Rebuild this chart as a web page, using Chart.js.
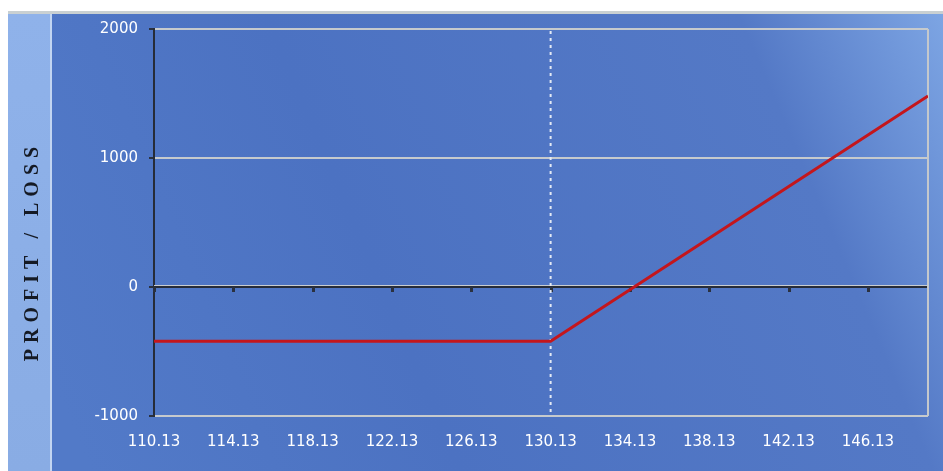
<!DOCTYPE html>
<html>
<head>
<meta charset="utf-8">
<script src="https://cdn.jsdelivr.net/npm/chart.js@4.4.1/dist/chart.umd.min.js"></script>
<style>
  html, body { margin: 0; padding: 0; background: #fff; }
  #wrap { width: 943px; height: 471px; }
</style>
</head>
<body>
<div id="wrap"><canvas id="pl"></canvas></div>
<script>
// Payoff of a long call: flat loss below the strike, rising above it.
const strikeLine = 130.13;
const priceLevels = [110.13, 130.13, 149.16];
const profitLoss = [-420, -420, 1480];
const xTickValues = [110.13, 114.13, 118.13, 122.13, 126.13, 130.13, 134.13, 138.13, 142.13, 146.13];
const yTickValues = [-1000, 0, 1000, 2000];
const axisTitle = 'PROFIT / LOSS';

const points = priceLevels.map((p, i) => ({ x: p, y: profitLoss[i] }));

// Panel backgrounds, left title strip and the extra marks on the plot.
const backdrop = {
    id: 'backdrop',
    beforeDraw(chart) {
        const ctx = chart.ctx, W = chart.width, H = chart.height;
        ctx.save();
        ctx.fillStyle = '#ffffff';
        ctx.fillRect(0, 0, W, H);
        ctx.fillStyle = '#c9d0d2';
        ctx.fillRect(8, 11, W - 8, 3);

        const g = ctx.createLinearGradient(52, 380, W, 0);
        g.addColorStop(0, '#527ac8');
        g.addColorStop(0.35, '#4c72c2');
        g.addColorStop(0.8, '#5479c6');
        g.addColorStop(1, '#7ea6e4');
        ctx.fillStyle = g;
        ctx.fillRect(52, 14, W - 52, H - 14);

        const lp = ctx.createLinearGradient(0, 14, 0, H);
        lp.addColorStop(0, '#8fb2ea');
        lp.addColorStop(1, '#89ace4');
        ctx.fillStyle = lp;
        ctx.fillRect(8, 14, 44, H - 14);
        ctx.fillStyle = '#c2d5f2';
        ctx.fillRect(50, 14, 2, H - 14);

        ctx.translate(33, 254);
        ctx.rotate(-Math.PI / 2);
        ctx.letterSpacing = '6px';
        ctx.font = 'bold 20px "Liberation Serif", serif';
        ctx.fillStyle = '#151a24';
        ctx.textAlign = 'center';
        ctx.textBaseline = 'middle';
        ctx.fillText(axisTitle, 3, 0);
        ctx.restore();
    },
    beforeDatasetsDraw(chart) {
        const ctx = chart.ctx, a = chart.chartArea;
        const xs = chart.scales.x, ys = chart.scales.y;
        const y0 = ys.getPixelForValue(0);
        ctx.save();
        // right border
        ctx.strokeStyle = '#c4c8cc';
        ctx.lineWidth = 2;
        ctx.beginPath();
        ctx.moveTo(a.right, a.top);
        ctx.lineTo(a.right, a.bottom);
        ctx.stroke();
        // light highlight above zero line
        ctx.strokeStyle = '#c8ccd0';
        ctx.lineWidth = 1;
        ctx.beginPath();
        ctx.moveTo(a.left, y0 - 1.5);
        ctx.lineTo(a.right, y0 - 1.5);
        ctx.stroke();
        // tick stubs under zero line
        ctx.fillStyle = '#2a3140';
        xTickValues.forEach(v => {
            const px = Math.round(xs.getPixelForValue(v));
            ctx.fillRect(px - 1, y0, 3, 5);
        });
        // strike marker
        const sx = xs.getPixelForValue(strikeLine);
        ctx.strokeStyle = '#e4eaf4';
        ctx.lineWidth = 2;
        ctx.setLineDash([3, 4]);
        ctx.beginPath();
        ctx.moveTo(sx, a.top + 2);
        ctx.lineTo(sx, a.bottom);
        ctx.stroke();
        ctx.restore();
    }
};

new Chart(document.getElementById('pl'), {
    type: 'line',
    data: {
        datasets: [{
            data: points,
            borderColor: '#c4161c',
            borderWidth: 3,
            pointRadius: 0,
            tension: 0
        }]
    },
    options: {
        responsive: true,
        maintainAspectRatio: false,
        animation: false,
        layout: { padding: { left: 52, top: 29, right: 15, bottom: 0 } },
        plugins: { legend: { display: false }, tooltip: { enabled: false } },
        scales: {
            x: {
                type: 'linear',
                min: priceLevels[0],
                max: priceLevels[priceLevels.length - 1],
                afterBuildTicks: s => { s.ticks = xTickValues.map(v => ({ value: v })); },
                afterFit: s => { s.height = 55; },
                grid: { display: false, drawTicks: false },
                border: { display: false },
                ticks: {
                    autoSkip: false,
                    maxRotation: 0,
                    padding: 17,
                    color: '#ffffff',
                    font: { family: 'DejaVu Sans', size: 15 },
                    callback: v => v.toFixed(2)
                }
            },
            y: {
                min: yTickValues[0],
                max: yTickValues[yTickValues.length - 1],
                afterBuildTicks: s => { s.ticks = yTickValues.map(v => ({ value: v })); },
                afterFit: s => { s.width = 102; },
                grid: {
                    color: c => c.tick && c.tick.value === 0 ? '#262c38' : '#c6cacd',
                    lineWidth: 2,
                    tickColor: '#2a3140',
                    tickLength: 5
                },
                border: { display: true, color: '#262c38', width: 2 },
                ticks: {
                    padding: 11,
                    color: '#ffffff',
                    font: { family: 'DejaVu Sans', size: 15 },
                    callback: v => String(v)
                }
            }
        }
    },
    plugins: [backdrop]
});
</script>
</body>
</html>
